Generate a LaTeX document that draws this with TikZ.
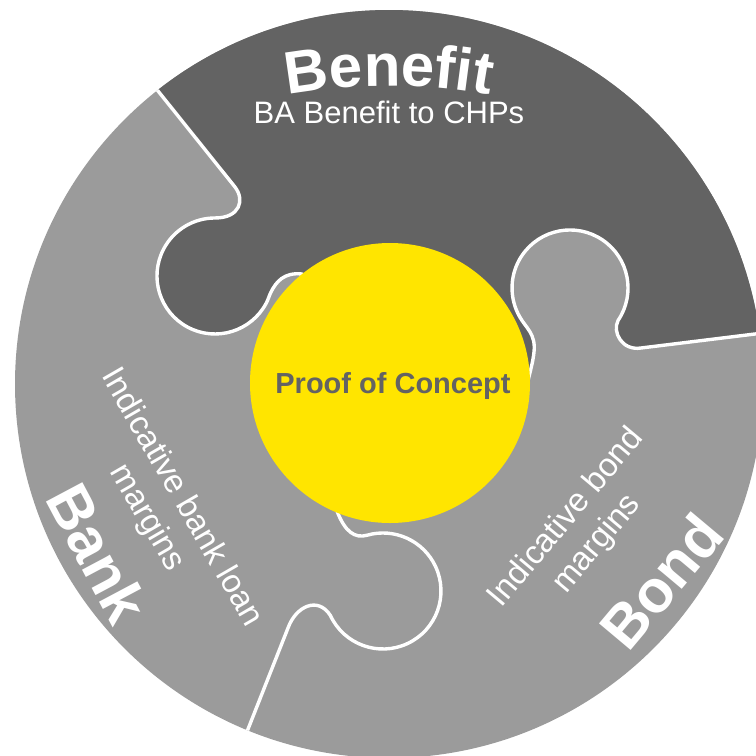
\documentclass[tikz,border=0pt]{standalone}
\usepackage{fontspec}
\setmainfont{Liberation Sans}
\definecolor{darkpiece}{HTML}{636363}
\definecolor{lightpiece}{HTML}{9B9B9B}
\definecolor{sunyellow}{HTML}{FFE500}
\begin{document}
\begin{tikzpicture}[x=1pt,y=-1pt,
  sep/.style={draw=white, line width=3.4pt, line join=round},
  bigword/.style={text=white, font=\bfseries\fontsize{60}{62}\selectfont, inner sep=0pt},
  arcletter/.style={text=white, font=\bfseries\fontsize{60}{62}\selectfont, inner sep=0pt, anchor=base},
  subtext/.style={text=white, font=\fontsize{33}{40}\selectfont, align=center, inner sep=0pt},
]
\useasboundingbox (0,0) rectangle (756,756);
% whole disc (Bank and Bond pieces)
\fill[lightpiece] (389,384) circle[radius=374];
\begin{scope}
  \clip (389,384) circle[radius=374];
  % Benefit piece
  \path[fill=darkpiece, sep]
    (130,-50) -- (820,-50) -- (820,326) -- (641,348)
    .. controls (622,351) and (612,332) .. (618.1,320.4)
    arc[start angle=34, end angle=-210, radius=58]
    .. controls (526,328) and (536,334) .. (534,352)
    .. controls (533,362) and (530,372) .. (527,385)
    -- (320,285) -- (302,274)
    .. controls (284,272) and (276,282) .. (271,292)
    .. controls (269,296) and (268,300) .. (266.2,303.2)
    arc[start angle=28, end angle=270, radius=58]
    .. controls (240,218) and (245,200) .. (235,187)
    -- (130,56) -- cycle;
  % Bank / Bond separator
  \draw[sep] (235,762) -- (288,628)
    .. controls (296,606) and (318,596) .. (330.4,615.5)
    arc[start angle=155, end angle=-106, radius=58]
    .. controls (355,538.6) and (345,532) .. (337,511) -- (345,490);
\end{scope}
% centre
\node[circle, fill=sunyellow, minimum size=280pt, inner sep=0pt] (poc) at (390,383) {};
\node[text=darkpiece, font=\bfseries\fontsize{29}{31}\selectfont, anchor=base, inner sep=0pt] (poctext) at (393,393) {Proof of Concept};
% Benefit title on an arc
\node[arcletter, rotate=8.19] (b1) at ([shift={(389,646)}]-98.19:560) {B};
\node[arcletter, rotate=4.26] (b2) at ([shift={(389,646)}]-94.26:560) {e};
\node[arcletter, rotate=0.68] (b3) at ([shift={(389,646)}]-90.68:560) {n};
\node[arcletter, rotate=-2.90] (b4) at ([shift={(389,646)}]-87.10:560) {e};
\node[arcletter, rotate=-5.63] (b5) at ([shift={(389,646)}]-84.37:560) {f};
\node[arcletter, rotate=-7.50] (b6) at ([shift={(389,646)}]-82.50:560) {i};
\node[arcletter, rotate=-9.38] (b7) at ([shift={(389,646)}]-80.62:560) {t};
\node[text=white, font=\fontsize{31}{34}\selectfont, anchor=base, inner sep=0pt] (benefitsub) at (389,123) {BA Benefit to CHPs};
% Bank
\node[subtext, rotate=-60] (banksub) at (164,508) {Indicative bank loan\\margins};
\node[bigword, rotate=-62] (bank) at (98,553) {Bank};
% Bond
\node[subtext, rotate=50] (bondsub) at (582,531) {Indicative bond\\margins};
\node[bigword, rotate=50] (bond) at (661,581) {Bond};
\end{tikzpicture}
\end{document}
